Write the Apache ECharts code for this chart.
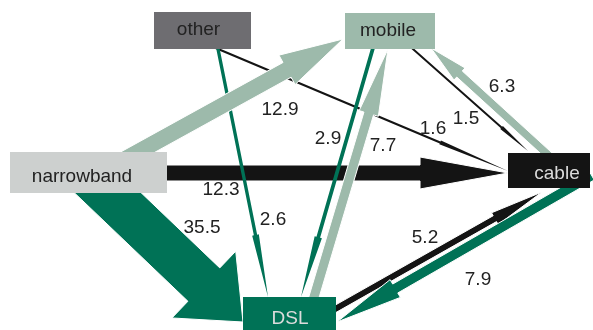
<!DOCTYPE html>
<html><head><meta charset="utf-8">
<script src="https://cdn.jsdelivr.net/npm/echarts@6/dist/echarts.min.js"></script>
<style>html,body{margin:0;padding:0;background:#fff}#c{width:593px;height:330px}</style>
</head><body><div id="c"></div>
<script>
// ---- data ----
const nodeNames = ['other', 'mobile', 'narrowband', 'cable', 'DSL'];
const flowSource = ['narrowband', 'other', 'mobile', 'DSL', 'other', 'mobile', 'narrowband', 'cable', 'narrowband', 'DSL', 'cable'];
const flowTarget = ['cable', 'cable', 'cable', 'cable', 'DSL', 'DSL', 'DSL', 'DSL', 'mobile', 'mobile', 'mobile'];
const flowValue = [12.3, 1.6, 1.5, 5.2, 2.6, 2.9, 35.5, 7.9, 12.9, 7.7, 6.3];

// ---- styles ----
const nodeColor = { other: '#6e6d71', mobile: '#9dbaab', narrowband: '#cdd0cf', cable: '#141414', DSL: '#007256' };
const nodeTextColor = { other: '#222', mobile: '#222', narrowband: '#222', cable: '#dcdcdc', DSL: '#dcdcdc' };
const FONT = 'Liberation Sans, Arial, Helvetica, sans-serif';
const FONT_SIZE = 19;

// ---- layout (diagram coordinates) ----
const nodeBox = {
  other: [154, 12, 251, 49],
  mobile: [345, 13, 435, 49],
  narrowband: [10, 152, 167, 193],
  cable: [508, 153, 590, 188],
  DSL: [243, 297, 336, 340]
};
const nodeTextPos = {
  other: [198.5, 30], mobile: [388, 31], narrowband: [82, 177], cable: [557, 173.5], DSL: [290, 318.5]
};
// [start, tip, head start fraction]
const flowPath = [
  [[167, 173], [508, 173], 0.742],
  [[218, 49], [508, 171], 0.766],
  [[413, 49], [528, 151], 0.77],
  [[337, 308], [542, 192], 0.77],
  [[218, 49], [268, 297], 0.75],
  [[373, 48], [301, 297], 0.76],
  [[108, 193], [243, 322], 0.71],
  [[570, 188], [337, 322], 0.75],
  [[138, 152], [343, 39], 0.727],
  [[314, 297], [388, 49], 0.74],
  [[545, 152], [431, 48], 0.75]
];
const flowLabelPos = [
  [221, 190], [433, 129], [466, 119], [425, 238], [273, 220], [328, 139], [202, 228], [478, 280], [280, 110], [383, 146], [502, 87]
];
const WIDTH_PER_UNIT = 1.3;
const BACK_EXT = 25;

const chart = echarts.init(document.getElementById('c'), null, { renderer: 'canvas' });

function flowItem(params, api) {
  const i = api.value(0);
  const v = api.value(1);
  const [s, t, f] = flowPath[i];
  const dx = t[0] - s[0], dy = t[1] - s[1];
  const len = Math.hypot(dx, dy);
  const ux = dx / len, uy = dy / len;
  const nx = -uy, ny = ux;
  const w = v * WIDTH_PER_UNIT;
  const hw = w / 2, hh = w;
  const s0 = [s[0] - ux * BACK_EXT, s[1] - uy * BACK_EXT];
  const b = [s[0] + dx * f, s[1] + dy * f];
  const pts = [
    [s0[0] + nx * hw, s0[1] + ny * hw],
    [b[0] + nx * hw, b[1] + ny * hw],
    [b[0] + nx * hh, b[1] + ny * hh],
    [t[0], t[1]],
    [b[0] - nx * hh, b[1] - ny * hh],
    [b[0] - nx * hw, b[1] - ny * hw],
    [s0[0] - nx * hw, s0[1] - ny * hw]
  ].map(p => api.coord(p));
  return {
    type: 'polygon',
    shape: { points: pts },
    style: {
      fill: nodeColor[flowTarget[i]],
      stroke: w >= 5 ? '#fff' : null,
      lineWidth: w >= 5 ? 1 : 0
    }
  };
}

function nodeItem(params, api) {
  const name = nodeNames[api.value(0)];
  const b = nodeBox[name];
  const p0 = api.coord([b[0], b[1]]);
  const p1 = api.coord([b[2], b[3]]);
  const tp = api.coord(nodeTextPos[name]);
  return {
    type: 'group',
    children: [
      { type: 'rect', shape: { x: p0[0], y: p0[1], width: p1[0] - p0[0], height: p1[1] - p0[1] }, style: { fill: nodeColor[name] } },
      { type: 'text', x: tp[0], y: tp[1], style: { text: name, fill: nodeTextColor[name], fontSize: FONT_SIZE, fontFamily: FONT, align: 'center', verticalAlign: 'middle' } }
    ]
  };
}

function labelItem(params, api) {
  const i = api.value(0);
  const p = api.coord(flowLabelPos[i]);
  return {
    type: 'text', x: p[0], y: p[1],
    style: { text: String(flowValue[i]), fill: '#222', fontSize: FONT_SIZE, fontFamily: FONT, align: 'center', verticalAlign: 'middle' }
  };
}

chart.setOption({
  animation: false,
  grid: { left: 0, right: 0, top: 0, bottom: 0 },
  xAxis: { type: 'value', min: 0, max: 593, show: false },
  yAxis: { type: 'value', min: 0, max: 330, inverse: true, show: false },
  series: [
    { type: 'custom', renderItem: flowItem, data: flowValue.map((v, i) => [i, v]), encode: { x: -1, y: -1 }, clip: false, z: 1 },
    { type: 'custom', renderItem: nodeItem, data: nodeNames.map((n, i) => [i]), encode: { x: -1, y: -1 }, clip: false, z: 2 },
    { type: 'custom', renderItem: labelItem, data: flowValue.map((v, i) => [i, v]), encode: { x: -1, y: -1 }, clip: false, z: 3 }
  ]
});
</script>
</body></html>
